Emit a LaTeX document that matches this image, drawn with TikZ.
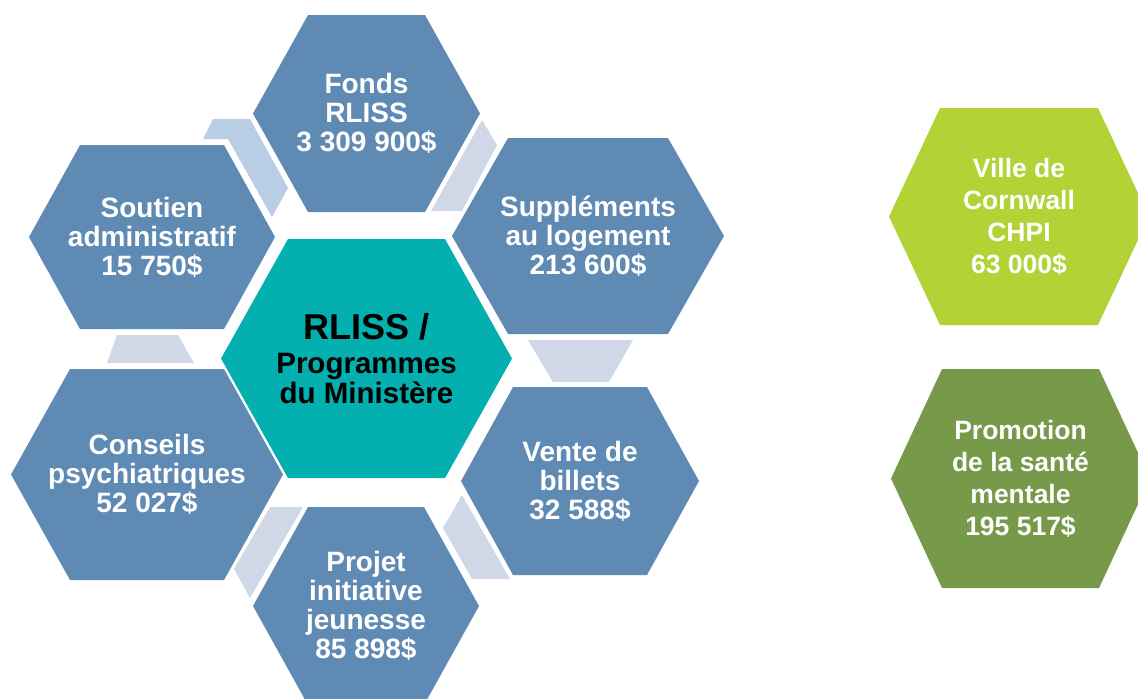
\documentclass[tikz,border=0pt]{standalone}
\usepackage{fontspec}
\setmainfont{Liberation Sans}
\usepackage{tikz}
\definecolor{cellblue}{HTML}{5E8AB4}
\definecolor{cellteal}{HTML}{03B0AF}
\definecolor{celllime}{HTML}{B2D235}
\definecolor{cellgreen}{HTML}{76994A}
\definecolor{linkpale}{HTML}{D0D8E8}
\definecolor{linkblue}{HTML}{B9CDE5}
% hexagon: fill, centre x, centre y, half width, half height, inset
\newcommand{\hexcell}[6]
{   \fill[#1] ({#2-#4},#3) -- ({#2-#4+#6},{#3-#5}) -- ({#2+#4-#6},{#3-#5})
      -- ({#2+#4},#3) -- ({#2+#4-#6},{#3+#5}) -- ({#2-#4+#6},{#3+#5}) -- cycle;
}
\tikzset{
  bluetext/.style={text=white, align=center, inner sep=0pt,
    font=\bfseries\fontsize{14}{14.5}\selectfont},
  greentext/.style={text=white, align=center, inner sep=0pt,
    font=\bfseries\fontsize{13.25}{16}\selectfont},
  centretext/.style={text=black, align=center, inner sep=0pt,
    font=\bfseries\fontsize{14.75}{15}\selectfont}
}
\begin{document}
\begin{tikzpicture}[x=0.5pt,y=-0.5pt]
 \useasboundingbox (0,0) rectangle (1138,698);
 \clip (0,0) rectangle (1138,698);

 % links between the cells
 \fill[linkblue] (213,119) -- (250,119) -- (288,188) -- (272,217) -- (228,139) -- (203,139) -- cycle;
 \fill[linkpale] (482,120) -- (497,145) -- (462,211) -- (431,211) -- cycle;
 \fill[linkpale] (528,340) -- (633,340) -- (609,382) -- (553,382) -- cycle;
 \fill[linkpale] (462,495) -- (443,528) -- (472,579) -- (510,579) -- cycle;
 \fill[linkpale] (270,507) -- (303,507) -- (250,598) -- (234,569) -- cycle;
 \fill[linkpale] (107,363) -- (194,363) -- (178,335) -- (117,335) -- cycle;

 \hexcell{cellblue}{366.5}{113.5}{113.5}{98.5}{55}
 \hexcell{cellblue}{152}{237}{123}{92}{51}
 \hexcell{cellblue}{588}{236}{136}{98}{56}
 \hexcell{cellteal}{366.5}{358.5}{145.5}{119.5}{67}
 \hexcell{cellblue}{580}{481}{119}{94}{52}
 \hexcell{cellblue}{147}{474.5}{136}{105.5}{59}
 \hexcell{cellblue}{366}{606}{113}{99}{55}
 \hexcell{celllime}{1019}{216.5}{130}{108.5}{51}
 \hexcell{cellgreen}{1020.5}{478.5}{129.5}{109.5}{51}

 \node[bluetext] (fonds) at (366.5,113.5) {Fonds\\RLISS\\3 309 900\$};
 \node[bluetext] (soutien) at (152,237) {Soutien\\administratif\\15 750\$};
 \node[bluetext] (supplements) at (588,236) {Suppléments\\au logement\\213 600\$};
 \node[centretext] (rliss) at (366.5,358.5) {{\fontsize{18}{18}\selectfont RLISS /}\\[2pt]Programmes\\du Ministère};
 \node[bluetext] (vente) at (580,481) {Vente de\\billets\\32 588\$};
 \node[bluetext] (conseils) at (147,474.5) {Conseils\\psychiatriques\\52 027\$};
 \node[bluetext] (projet) at (366,606) {Projet\\initiative\\jeunesse\\85 898\$};
 \node[greentext] (ville) at (1019,216.5) {Ville de\\Cornwall\\CHPI\\63 000\$};
 \node[greentext] (promotion) at (1020.5,478.5) {Promotion\\de la santé\\mentale\\195 517\$};

\end{tikzpicture}
\end{document}
